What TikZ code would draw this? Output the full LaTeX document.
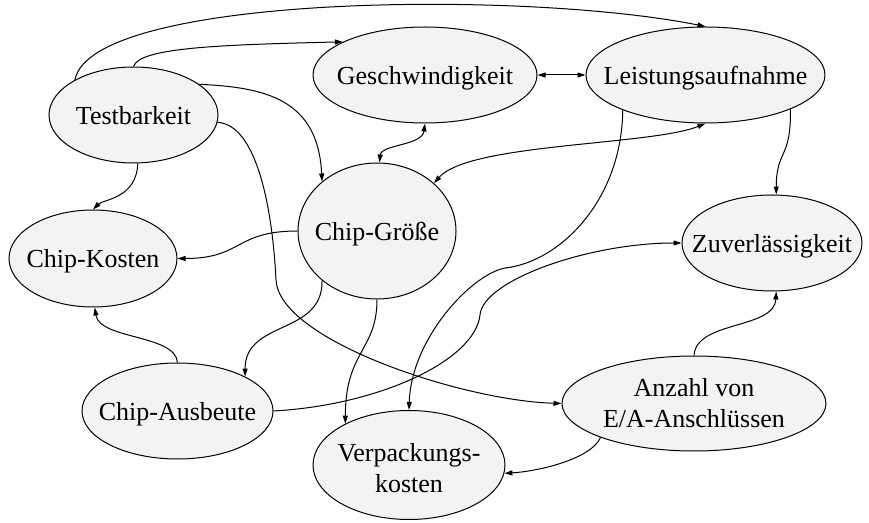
\documentclass[tikz,border=0pt]{standalone}
\usepackage{fontspec}
\setmainfont{Liberation Serif}
\usetikzlibrary{shapes.geometric,arrows.meta}
\definecolor{nodefill}{RGB}{243,243,243}
\newcommand{\nodetext}[1]{\makebox[0pt]{\begin{tabular}[t]{@{}c@{}}#1\end{tabular}}}
\tikzset{
  topic/.style={ellipse, draw, fill=nodefill, inner sep=0pt, line width=1pt,
    text height=19pt, text depth=0pt, font=\fontsize{26}{31}\selectfont},
  link/.style={line width=1pt, >={Triangle[length=8pt,width=5pt]}},
}
\begin{document}
\begin{tikzpicture}[x=1pt,y=1pt]
      \useasboundingbox (0,0) rectangle (869,522);
      \draw
        (133.5,407) node[topic, minimum width=169pt, minimum height=96pt] (test){\nodetext{Testbarkeit}}
        (425,447) node[topic, minimum width=224pt, minimum height=96pt] (gesch){\nodetext{Geschwindigkeit}}
        (705.5,447) node[topic, minimum width=239pt, minimum height=96pt] (leist){\nodetext{Leistungsaufnahme}}
        (377,291) node[topic, minimum width=158pt, minimum height=136pt] (groesse){\nodetext{Chip-Größe}}
        (93,263.5) node[topic, minimum width=168pt, minimum height=97pt] (kosten){\nodetext{Chip-Kosten}}
        (772,279) node[topic, minimum width=180pt, minimum height=96pt] (zuver){\nodetext{Zuverlässigkeit}}
        (177.5,111) node[topic, minimum width=191pt, minimum height=96pt] (ausbeute){\nodetext{Chip-Ausbeute}}
        (409,57) node[topic, minimum width=192pt, minimum height=109pt, text height=20pt, text depth=28pt] (verpack){\nodetext{Verpackungs-\\kosten}}
        (694,118.5) node[topic, minimum width=264pt, minimum height=95pt, text height=20pt, text depth=33pt] (anzahl){\nodetext{Anzahl von\\E/A-Anschlüssen}};
      \coordinate (bend4) at (276,242);
      \coordinate (bend10) at (505,254);
      \coordinate (bend15) at (480,207);
      \begin{scope}[link, ->]
        \draw (test.149) .. controls +(16,85) and +(-185,37) .. (leist.north);
        \draw (test.north) .. controls +(6,19) and +(-123,-3) .. (gesch.158);
        \draw (test.25) .. controls +(65,-3) and +(-4,83) .. (groesse.138);
        \draw (test.-5) .. controls +(37,-2) and +(-4,80) .. (bend4)
          .. controls +(3,-60) and +(-100,3) .. (anzahl.west);
        \draw (test.-85) .. controls +(-1,-35) and +(10,10) .. (kosten.north);
        \draw (leist.-22) .. controls +(1,-50) and +(0,45) .. (zuver.85);
        \draw (leist.203) .. controls +(-1,-90) and +(55,6) .. (bend10)
          .. controls +(-35,-7) and +(2,70) .. (verpack.north);
        \draw (groesse.west) .. controls +(-63,0) and +(65,0) .. (kosten.east);
        \draw (groesse.222) .. controls +(1,-55) and +(0,57) .. (ausbeute.27);
        \draw (groesse.south) .. controls +(0,-51) and +(0,73) .. (verpack.147);
        \draw (ausbeute.north) .. controls +(-2,28) and +(5,-32) .. (kosten.-88);
        \draw (ausbeute.east) .. controls +(107,6) and +(-5,-45) .. (bend15)
          .. controls +(3,35) and +(-92,0) .. (zuver.west);
        \draw (anzahl.north) .. controls +(2,35) and +(-2,-38) .. (zuver.-85);
        \draw (anzahl.200) .. controls +(-10,-22) and +(33,2) .. (verpack.-5);
      \end{scope}
      \begin{scope}[link, <->]
        \draw (groesse.88) .. controls +(2,18) and +(-3,-22) .. (gesch.south);
        \draw (gesch.east) to (leist.west);
        \draw (groesse.40) .. controls +(35,40) and +(-55,-22) .. (leist.south);
      \end{scope}
    \end{tikzpicture}
\end{document}
